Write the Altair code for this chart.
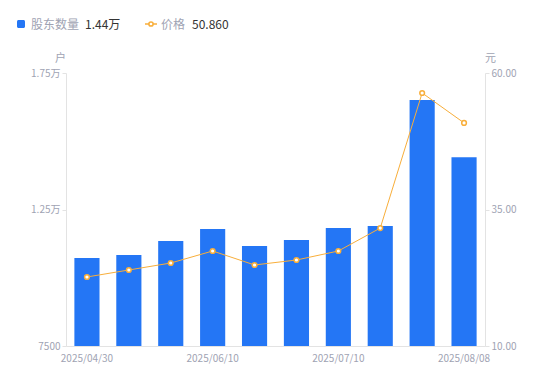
import altair as alt
import pandas as pd

dates = ["2025/04/30", "2025/05/20", "2025/05/30", "2025/06/10", "2025/06/20",
         "2025/06/30", "2025/07/10", "2025/07/20", "2025/07/31", "2025/08/08"]
holders = [10720, 10830, 11350, 11790, 11160, 11380, 11820, 11900, 16510, 14410]
price = [22.64, 23.92, 25.20, 27.40, 24.84, 25.75, 27.40, 31.60, 56.34, 50.86]
shown_dates = ["2025/04/30", "2025/06/10", "2025/07/10", "2025/08/08"]

df = pd.DataFrame({"date": dates, "holders": holders, "price": price})

BLUE = "#2476F5"
ORANGE = "#F8AE3A"
GREY = "#A0A3B3"
DARK = "#333333"
FONT = "Noto Sans CJK SC"

label_expr = " || ".join([f"datum.value == '{d}'" for d in shown_dates])
x = alt.X("date:N", sort=dates, title=None,
          scale=alt.Scale(paddingInner=0.4, paddingOuter=0.2),
          axis=alt.Axis(labelAngle=0, ticks=False, domainColor="#E3E3E3",
                        labelColor=GREY, labelFontSize=10, labelPadding=7,
                        labelExpr=f"({label_expr}) ? datum.value : ''",
                        labelOverlap=False))

base = alt.Chart(df)

bars = base.mark_bar(color=BLUE, clip=True).encode(
    x=x,
    y=alt.Y("holders:Q", title="户",
            scale=alt.Scale(domain=[7500, 17500], zero=False, nice=False),
            axis=alt.Axis(values=[7500, 12500, 17500], grid=False,
                          labelExpr="datum.value == 7500 ? '7500' : format(datum.value/10000, '.2f') + '万'",
                          labelColor=GREY, labelFontSize=10, tickSize=4,
                          tickColor="#E3E3E3", domainColor="#E3E3E3",
                          titleAngle=0, titleX=-6, titleY=-10, titleColor=GREY,
                          titleFontSize=11, titleFontWeight="normal",
                          titleAlign="center")),
)

line = base.mark_line(color=ORANGE, strokeWidth=1).encode(
    x=x,
    y=alt.Y("price:Q", title="元",
            scale=alt.Scale(domain=[10, 60], zero=False, nice=False),
            axis=alt.Axis(orient="right", values=[10, 35, 60], format=".2f", grid=False,
                          labelColor=GREY, labelFontSize=10, tickSize=4,
                          tickColor="#E3E3E3", domainColor="#E3E3E3",
                          titleAngle=0, titleX=5, titleY=-10, titleColor=GREY,
                          titleFontSize=11, titleFontWeight="normal",
                          titleAlign="center")),
)
points = base.mark_point(filled=True, fill="white", stroke=ORANGE, strokeWidth=1.5,
                         size=22, opacity=1).encode(x=x, y="price:Q")

one = alt.Data(values=[{}])
leg_val1 = f"{holders[-1]/10000:.2f}万"
leg_val2 = f"{price[-1]:.3f}"
legend = [
    alt.Chart(one).mark_rect(color=BLUE, cornerRadius=1.5).encode(
        x=alt.value(-49), x2=alt.value(-41), y=alt.value(-53), y2=alt.value(-45)),
    alt.Chart(one).mark_text(text="股东数量", align="left", baseline="middle",
                             fontSize=12, color=GREY, font=FONT).encode(
        x=alt.value(-35), y=alt.value(-48)),
    alt.Chart(one).mark_text(text=leg_val1, align="left", baseline="middle",
                             fontSize=12, color=DARK, font=FONT).encode(
        x=alt.value(19), y=alt.value(-48)),
    alt.Chart(one).mark_rule(color=ORANGE, strokeWidth=1.5).encode(
        x=alt.value(79), x2=alt.value(91), y=alt.value(-49)),
    alt.Chart(one).mark_point(filled=True, fill="white", stroke=ORANGE, strokeWidth=1.5,
                              size=18, opacity=1).encode(
        x=alt.value(85), y=alt.value(-49)),
    alt.Chart(one).mark_text(text="价格", align="left", baseline="middle",
                             fontSize=12, color=GREY, font=FONT).encode(
        x=alt.value(95), y=alt.value(-48)),
    alt.Chart(one).mark_text(text=leg_val2, align="left", baseline="middle",
                             fontSize=12, color=DARK, font=FONT).encode(
        x=alt.value(126), y=alt.value(-48)),
]

chart = alt.layer(bars, line + points, *legend).resolve_scale(y="independent").properties(
    width=419, height=273,
    autosize=alt.AutoSizeParams(type="none"),
    padding={"left": 58, "top": 65, "right": 55, "bottom": 27},
    view=alt.ViewBackground(stroke="transparent", strokeWidth=0),
).configure_view(stroke="transparent", strokeWidth=0).configure(font=FONT)

chart.save("out.html", embed_options={"renderer": "svg", "actions": False})
